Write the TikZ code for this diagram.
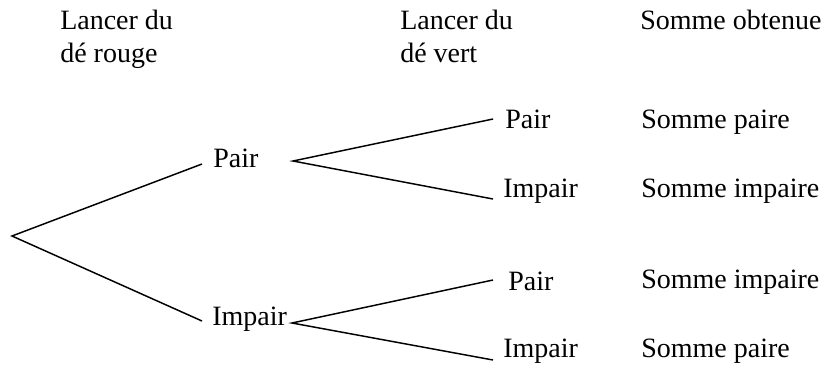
\documentclass[tikz,border=0pt]{standalone}
\usepackage{fontspec}
\setmainfont{Liberation Serif}
\begin{document}
\begin{tikzpicture}[x=0.75pt,y=-0.75pt,
  lbl/.style={anchor=base west,inner sep=0pt,font=\fontsize{21}{25}\selectfont},
  branch/.style={line width=1.1pt}]
\useasboundingbox (0,0) rectangle (825,365);
% headers
\node[lbl] (h1a) at (60,29) {Lancer du};
\node[lbl] (h1b) at (60,62) {dé rouge};
\node[lbl] (h2a) at (400,29) {Lancer du};
\node[lbl] (h2b) at (400,62) {dé vert};
\node[lbl] (h3) at (640,29) {Somme obtenue};
% tree points
\coordinate (root) at (12,236);
\coordinate (p1in) at (202,164);
\coordinate (p1out) at (293,161);
\coordinate (i1in) at (202,321);
\coordinate (i1out) at (292,323);
\coordinate (pp) at (493,119);
\coordinate (pi) at (493,199);
\coordinate (ip) at (493,280);
\coordinate (ii) at (493,360);
% labels
\node[lbl] (P1) at (213,167) {Pair};
\node[lbl] (I1) at (212,325) {Impair};
\node[lbl] (PP) at (505,128) {Pair};
\node[lbl] (PI) at (503,197) {Impair};
\node[lbl] (IP) at (508,290) {Pair};
\node[lbl] (II) at (503,357) {Impair};
\node[lbl] (S1) at (641,128) {Somme paire};
\node[lbl] (S2) at (641,197) {Somme impaire};
\node[lbl] (S3) at (641,288) {Somme impaire};
\node[lbl] (S4) at (641,357) {Somme paire};
% branches
\draw[branch] (p1in) -- (root) -- (i1in);
\draw[branch] (pp) -- (p1out) -- (pi);
\draw[branch] (ip) -- (i1out) -- (ii);
\end{tikzpicture}
\end{document}
